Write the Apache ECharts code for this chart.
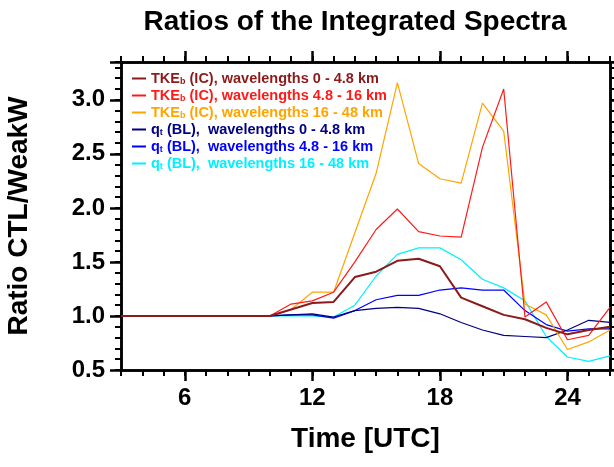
<!DOCTYPE html><html><head><meta charset="utf-8"><script src="https://cdn.jsdelivr.net/npm/echarts@6/dist/echarts.min.js"></script></head><body style="margin:0"><div id="c" style="width:614px;height:467px"></div><script>
const hours=[3,4,5,6,7,8,9,10,11,12,13,14,15,16,17,18,19,20,21,22,23,24,25,26];
const flat=[1,1,1,1,1,1,1];
const tkeA=flat.concat([1.0,1.06,1.12,1.13,1.36,1.41,1.51,1.53,1.46,1.17,1.09,1.01,0.97,0.89,0.83,0.87,0.90]);
const tkeB=flat.concat([1.0,1.11,1.14,1.22,1.50,1.80,1.99,1.78,1.74,1.73,2.56,3.10,0.99,1.13,0.78,0.82,1.08]);
const tkeC=flat.concat([1.0,1.06,1.22,1.22,1.77,2.32,3.16,2.41,2.27,2.23,2.97,2.71,1.11,1.01,0.69,0.76,0.87]);
const qA=flat.concat([1.0,1.01,1.02,0.99,1.05,1.07,1.08,1.07,1.02,0.94,0.87,0.82,0.81,0.80,0.87,0.96,0.94]);
const qB=flat.concat([1.0,1.01,1.01,0.98,1.05,1.15,1.19,1.19,1.24,1.26,1.24,1.24,1.05,0.92,0.86,0.88,0.88]);
const qC=flat.concat([1.0,1.0,1.0,0.99,1.10,1.37,1.57,1.63,1.63,1.52,1.34,1.26,1.14,0.81,0.62,0.58,0.63]);
const xTicks=[6,12,18,24];
const defs=[
 ['TKE','b',' (IC), wavelengths 0 - 4.8 km','#8b1a1a',tkeA],
 ['TKE','b',' (IC), wavelengths 4.8 - 16 km','#ff1a1a',tkeB],
 ['TKE','b',' (IC), wavelengths 16 - 48 km','#ffa500',tkeC],
 ['q','t',' (BL),  wavelengths 0 - 4.8 km','#000080',qA],
 ['q','t',' (BL),  wavelengths 4.8 - 16 km','#0000ff',qB],
 ['q','t',' (BL),  wavelengths 16 - 48 km','#00f0ff',qC]];
const F='Liberation Sans, Arial, sans-serif';
const names=defs.map((d,i)=>'s'+i);
const series=defs.map((d,i)=>({name:names[i],type:'line',showSymbol:false,data:hours.map((h,j)=>[h,d[4][j]]),lineStyle:{color:d[3],width:i==0?2:1.2},itemStyle:{color:d[3]},z:10-i}));
const rich={};
defs.forEach((d,i)=>{rich['a'+i]={color:d[3],fontSize:14.5,fontWeight:'bold',fontFamily:F};rich['s'+i]={color:d[3],fontSize:9,fontWeight:'bold',fontFamily:F,verticalAlign:'bottom',padding:[7,0,0,0]};});
const axLine={show:true,onZero:false,lineStyle:{color:'#000',width:2.5}};
const lab={fontSize:24,fontWeight:'bold',fontFamily:F,color:'#000'};
const nameTS={fontSize:28,fontWeight:'bold',fontFamily:F,color:'#000'};
const X0=3,X1=26,Y0=0.5,Y1=3.35;
function tk(len,w){return {show:true,inside:false,length:len,lineStyle:{color:'#000',width:w,opacity:1,type:'solid'}};}
function xMajor(pos,showLab){return {type:'value',min:X0,max:X1,position:pos,axisLine:axLine,
  axisTick:Object.assign({customValues:xTicks},tk(11,2.5)),
  axisLabel:showLab?Object.assign({customValues:xTicks,margin:16},lab):{show:false},splitLine:{show:false}};}
function xMinor(pos){return {type:'value',min:X0,max:X1,interval:1,position:pos,axisLine:axLine,
  axisTick:tk(6,2),axisLabel:{show:false},splitLine:{show:false}};}
function yAx(pos,main){return {type:'value',min:Y0,max:Y1,interval:0.5,position:pos,axisLine:axLine,
  axisTick:tk(11,2.5),
  axisLabel:main?Object.assign({margin:16,formatter:v=>v>3.2?'':v.toFixed(1)},lab):{show:false},splitLine:{show:false}};}
function yMinor(pos){return {type:'value',min:Y0,max:Y1,interval:0.1,position:pos,axisLine:axLine,
  axisTick:tk(6,2),axisLabel:{show:false},splitLine:{show:false}};}
const xa=[xMajor('bottom',true),xMinor('bottom'),xMajor('top',false),xMinor('top')];
xa[0].name='Time [UTC]';xa[0].nameLocation='middle';xa[0].nameGap=55;xa[0].nameTextStyle=nameTS;
const ya=[yAx('left',true),yMinor('left'),yAx('right',false),yMinor('right')];
ya[0].name='Ratio CTL/WeakW';ya[0].nameLocation='middle';ya[0].nameGap=88;ya[0].nameTextStyle=nameTS;
const chart=echarts.init(document.getElementById('c'));
chart.setOption({
 animation:false,backgroundColor:'#fff',
 title:{text:'Ratios of the Integrated Spectra',left:350,top:3,textAlign:'center',textStyle:{fontSize:28,fontWeight:'bold',fontFamily:F,color:'#000'}},
 grid:{left:121,right:4,top:62,bottom:97,containLabel:false,outerBoundsMode:'none'},
 legend:{orient:'vertical',left:127,top:66,itemGap:1.5,itemWidth:14,itemHeight:2,icon:'rect',data:names,
  textStyle:{rich:rich,fontSize:14.5},
  formatter:n=>{const i=names.indexOf(n),d=defs[i];return '{a'+i+'|'+d[0]+'}{s'+i+'|'+d[1]+'}{a'+i+'|'+d[2]+'}';}},
 xAxis:xa,yAxis:ya,
 series:series
});
</script></body></html>
